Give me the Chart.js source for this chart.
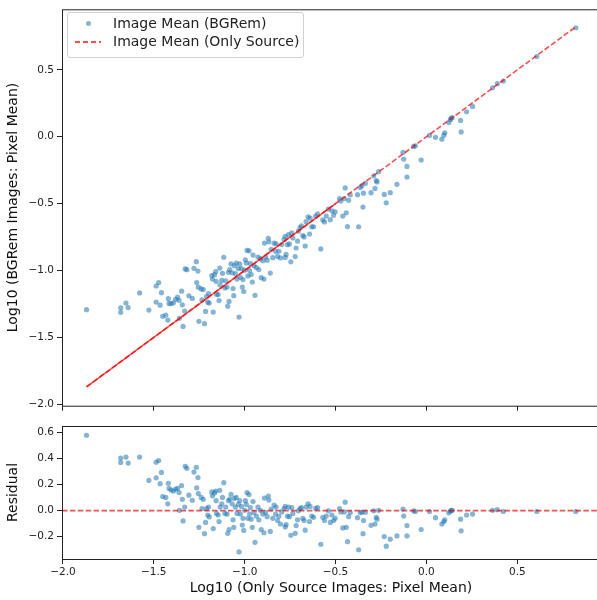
<!DOCTYPE html>
<html>
<head>
<meta charset="utf-8">
<script src="https://cdn.jsdelivr.net/npm/chart.js@4.4.1/dist/chart.umd.min.js"></script>
<style>
  body { margin: 0; background: #fff; overflow: hidden; font-family: "DejaVu Sans", sans-serif; }
  #wrap { position: relative; width: 597px; height: 600px; overflow: hidden; }
  canvas { position: absolute; left: 0; }
  #mainCanvas { top: 0; }
  #residCanvas { top: 415px; }
  #legend { position: absolute; left: 67px; top: 12px; width: 235px; height: 44px;
            border: 1px solid #d0d0d0; border-radius: 3px; background: rgba(255,255,255,0.8);
            font-size: 14px; color: #222; }
  #legend .dot { position: absolute; left: 18px; top: 8px; width: 5px; height: 5px; border-radius: 50%;
                 background: rgba(31,119,180,0.55); }
  #legend .dash { position: absolute; left: 7px; top: 28px; width: 26px; height: 2px;
                  background: repeating-linear-gradient(to right, rgba(255,0,0,0.7) 0 5.5px, transparent 5.5px 8px); }
  #legend .txt { position: absolute; left: 45px; line-height: 16px; white-space: nowrap; }
</style>
</head>
<body>
<div id="wrap">
  <canvas id="mainCanvas" width="604" height="415"></canvas>
  <canvas id="residCanvas" width="604" height="185"></canvas>
  <div id="legend">
    <span class="dot"></span><span class="txt" style="top:2px">Image Mean (BGRem)</span>
    <span class="dash"></span><span class="txt" style="top:20px">Image Mean (Only Source)</span>
  </div>
</div>
<script>
document.addEventListener('DOMContentLoaded', function () {

// log10 of source image pixel mean (x)
const srcLog = [
  -1.870, -1.682, -1.682, -1.653, -1.641, -1.578, -1.527, -1.487, -1.473, -1.487,
  -1.458, -1.465, -1.451, -1.434, -1.423, -1.420, -1.416, -1.405, -1.392, -1.380,
  -1.369, -1.361, -1.359, -1.347, -1.343, -1.339, -1.330, -1.327, -1.318, -1.307,
  -1.288, -1.279, -1.266, -1.264, -1.257, -1.255, -1.252, -1.239, -1.228, -1.235,
  -1.221, -1.215, -1.210, -1.203, -1.199, -1.195, -1.181, -1.177, -1.173, -1.166,
  -1.157, -1.159, -1.155, -1.146, -1.141, -1.137, -1.135, -1.126, -1.122, -1.115,
  -1.109, -1.104, -1.097, -1.093, -1.089, -1.086, -1.082, -1.075, -1.069, -1.064,
  -1.060, -1.057, -1.051, -1.046, -1.042, -1.035, -1.031, -1.027, -1.024, -1.018,
  -1.013, -1.009, -1.005, -1.000, -0.996, -0.991, -0.987, -0.982, -0.976, -0.973,
  -0.969, -0.964, -0.958, -0.954, -0.949, -0.943, -0.936, -0.927, -0.922, -0.914,
  -0.909, -0.900, -0.894, -0.891, -0.885, -0.876, -0.870, -0.867, -0.859, -0.854,
  -0.845, -0.838, -0.830, -0.827, -0.819, -0.812, -0.803,
  -0.796, -0.783, -0.777, -0.777, -0.772, -0.765, -0.759, -0.754, -0.746, -0.741,
  -0.735, -0.722, -0.717, -0.709, -0.704, -0.695, -0.688, -0.680, -0.673, -0.667,
  -0.662, -0.651, -0.643, -0.640, -0.631, -0.621, -0.610, -0.599, -0.581, -0.570,
  -0.561, -0.551, -0.539, -0.529, -0.520, -0.511, -0.502, -0.478, -0.471, -0.460,
  -0.452, -0.447, -0.441, -0.434, -0.428, -0.419, -0.379, -0.373, -0.364, -0.355,
  -0.349, -0.346, -0.336, -0.305, -0.290, -0.283, -0.276, -0.272, -0.263, -0.232,
  -0.221, -0.199, -0.162, -0.129, -0.125, -0.107, -0.107, -0.070, -0.061, -0.029,
   0.017,  0.050,  0.085,  0.096,  0.101,  0.123,  0.132,  0.136,  0.142,  0.188,
   0.191,  0.221,  0.254,  0.364,  0.390,  0.423,  0.607,  0.822
];

// residual = BGRem - source (log10)
const residual = [
   0.577,  0.403,  0.369,  0.410,  0.364,  0.410,  0.231,  0.371,  0.383,  0.251,
   0.292,  0.206,  0.108,  0.101,  0.052,  0.209,  0.170,  0.157,  0.150,  0.165,
   0.170,  0.138,  0.002,  0.192,  0.086, -0.079,  0.027,  0.339,  0.324,  0.118,
   0.079,  0.295,  0.332,  0.174,  0.253,  0.130, -0.128,  0.101,  0.086,  0.015,
  -0.177, -0.091,  0.015, -0.034,  0.027, -0.049,  0.143,  0.113, -0.138,  0.135,
   0.076,  0.150, -0.022, -0.034, -0.084,  0.155,  0.027,  0.052,  0.101,  0.214,
  -0.022,  0.027, -0.027, -0.174,  0.076, -0.145,  0.088,  0.125,  0.052, -0.071,
  -0.128,  0.093,  0.027,  0.101, -0.022,  0.049, -0.317,  0.076, -0.027,  0.032,
  -0.111, -0.059, -0.152,  0.002,  0.076,  0.047,  0.138, -0.059,  0.123, -0.027,
   0.022, -0.066, -0.128,  0.069, -0.015, -0.243, -0.042,  0.027, -0.071,  0.002,
  -0.145, -0.027, -0.170,  0.096, -0.015, -0.047,  0.111,  0.081, -0.160,  0.012,
  -0.059,  0.042, -0.027,  0.027, -0.076, -0.044, -0.103,
  -0.010,  0.015,  0.032, -0.125, -0.108, -0.042,  0.027, -0.047, -0.189,  0.022,
  -0.022, -0.174, -0.115, -0.071, -0.002,  0.015,  0.022, -0.059, -0.076, -0.150,
   0.027,  0.052, -0.084,  0.032, -0.042, -0.052,  0.017,  0.022, -0.258, -0.052,
  -0.076, -0.042, -0.002, -0.091, -0.034, -0.076, -0.059,  0.015, -0.010, -0.133,
  -0.010,  0.064, -0.128, -0.238, -0.047, -0.015, -0.054, -0.300, -0.015, -0.012,
  -0.177, -0.076, -0.012, -0.113, -0.002, -0.103, -0.052, -0.066,  0.002, -0.199,
  -0.273, -0.219, -0.194,  0.012, -0.042, -0.115, -0.194, -0.002, -0.007, -0.145,
  -0.007, -0.054, -0.103, -0.084, -0.071, -0.017, -0.005,  0.002,  0.002, -0.066,
  -0.155, -0.034, -0.027,  0.002,  0.007, -0.007, -0.007, -0.007
];

// log10 of BGRem image pixel mean (y)
const bgremLog = srcLog.map((v, i) => +(v + residual[i]).toFixed(3));

const mainTicksY = [-2.0, -1.5, -1.0, -0.5, 0.0, 0.5];
const residTicksY = [-0.2, 0.0, 0.2, 0.4, 0.6];
const xTicks = [-2.0, -1.5, -1.0, -0.5, 0.0, 0.5];

const X_MIN = -2.005, X_MAX = 0.955;
const MAIN_Y_MIN = -2.011, MAIN_Y_MAX = 0.953;
const RES_Y_MIN = -0.371, RES_Y_MAX = 0.648;

const dotColor = 'rgba(31,119,180,0.55)';
const redLine = 'rgba(255,0,0,0.7)';
const tickFont = { family: 'DejaVu Sans', size: 10.5 };
const titleFont = { family: 'DejaVu Sans', size: 14 };

function fmt(v) {
  return v.toFixed(1).replace('-', '\u2212');
}

// draw a full box round the plot area, like matplotlib spines
const frame = {
  id: 'frame',
  afterDraw(chart) {
    const a = chart.chartArea, c = chart.ctx;
    c.save();
    c.strokeStyle = '#222';
    c.lineWidth = 1;
    c.strokeRect(a.left + 0.5, a.top + 0.5, a.right - a.left, a.bottom - a.top);
    c.restore();
  }
};

function yAxis(min, max, ticks, title, tpad) {
  return {
    type: 'linear', min: min, max: max,
    afterBuildTicks: s => { s.ticks = ticks.map(v => ({ value: v })); },
    afterFit: s => { s.width = 62; },
    border: { display: false },
    grid: { drawOnChartArea: false, tickLength: 5, color: '#222', tickWidth: 1 },
    ticks: { font: tickFont, color: '#222', padding: 3, callback: v => fmt(v) },
    title: { display: true, text: title, font: titleFont, color: '#111', padding: tpad }
  };
}

const xScaleBase = {
  type: 'linear', min: X_MIN, max: X_MAX,
  afterBuildTicks: s => { s.ticks = xTicks.map(v => ({ value: v })); },
  border: { display: false },
  grid: { drawOnChartArea: false, tickLength: 5, color: '#222', tickWidth: 1 }
};

new Chart(document.getElementById('mainCanvas'), {
  type: 'scatter',
  data: {
    datasets: [
      {
        label: 'Image Mean (BGRem)',
        data: srcLog.map((x, i) => ({ x: x, y: bgremLog[i] })),
        backgroundColor: dotColor, borderWidth: 0, pointRadius: 2.6, order: 2
      },
      {
        label: 'Image Mean (Only Source)',
        data: [{ x: srcLog[0], y: srcLog[0] }, { x: srcLog[srcLog.length - 1], y: srcLog[srcLog.length - 1] }],
        showLine: true, borderColor: redLine, borderWidth: 1.6, borderDash: [5.5, 2.4],
        pointRadius: 0, order: 1
      },
      {
        // overplotted part of the reference line looks solid
        label: '',
        data: [{ x: srcLog[0], y: srcLog[0] }, { x: -0.5, y: -0.5 }],
        showLine: true, borderColor: 'rgba(255,0,0,0.7)', borderWidth: 1.6,
        pointRadius: 0, order: 1
      }
    ]
  },
  options: {
    responsive: false, animation: false, devicePixelRatio: 1,
    layout: { padding: { top: 6, left: 0, right: 0, bottom: 0 } },
    plugins: { legend: { display: false }, tooltip: { enabled: false } },
    scales: {
      x: Object.assign({}, xScaleBase, {
        afterFit: s => { s.height = 8; },
        ticks: { display: false }
      }),
      y: yAxis(MAIN_Y_MIN, MAIN_Y_MAX, mainTicksY, 'Log10 (BGRem Images: Pixel Mean)', { top: 5, bottom: 0 })
    }
  },
  plugins: [frame]
});

new Chart(document.getElementById('residCanvas'), {
  type: 'scatter',
  data: {
    datasets: [
      {
        label: 'Residual',
        data: srcLog.map((x, i) => ({ x: x, y: residual[i] })),
        backgroundColor: dotColor, borderWidth: 0, pointRadius: 2.6, order: 2
      },
      {
        label: 'zero',
        data: [{ x: X_MIN, y: 0 }, { x: X_MAX, y: 0 }],
        showLine: true, borderColor: redLine, borderWidth: 1.6, borderDash: [5.5, 2.4],
        pointRadius: 0, order: 1
      }
    ]
  },
  options: {
    responsive: false, animation: false, devicePixelRatio: 1,
    layout: { padding: { top: 11, left: 0, right: 0, bottom: 0 } },
    plugins: { legend: { display: false }, tooltip: { enabled: false } },
    scales: {
      x: Object.assign({}, xScaleBase, {
        afterFit: s => { s.height = 41; },
        ticks: { font: tickFont, color: '#222', padding: 2, maxRotation: 0, callback: v => fmt(v) },
        title: { display: true, text: 'Log10 (Only Source Images: Pixel Mean)', font: titleFont, color: '#111', padding: { top: 0, bottom: 3 } }
      }),
      y: yAxis(RES_Y_MIN, RES_Y_MAX, residTicksY, 'Residual', { top: 5, bottom: 0 })
    }
  },
  plugins: [frame]
});

});
</script>
</body>
</html>
